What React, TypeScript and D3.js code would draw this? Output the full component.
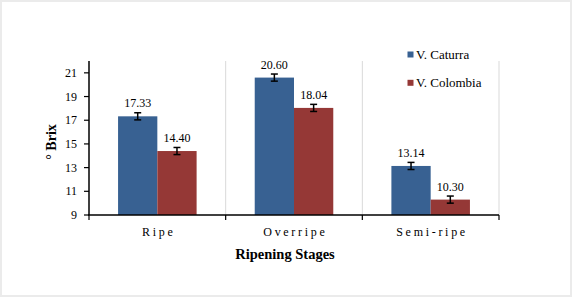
import React from "react";
import * as d3 from "d3";

const categories = ["Ripe", "Overripe", "Semi-ripe"];
const seriesNames = ["V. Caturra", "V. Colombia"];
const caturra = [17.33, 20.6, 13.14];
const colombia = [14.4, 18.04, 10.3];
const caturraErr = [0.3, 0.3, 0.3];
const colombiaErr = [0.3, 0.3, 0.3];
const yTicks = [9, 11, 13, 15, 17, 19, 21];
const colors = ["#386192", "#953836"];

const W = 572;
const H = 297;
const left = 89;
const right = 499;
const top = 61;
const bottom = 215;
const font = "Liberation Serif, Times New Roman, Times, serif";

export default function App() {
  const y = d3.scaleLinear().domain([9, 22]).range([bottom, top]);
  const x0 = d3.scaleBand<string>().domain(categories).range([left, right]).paddingInner(0).paddingOuter(0);
  const x1 = d3
    .scaleBand<string>()
    .domain(seriesNames)
    .range([0, x0.step()])
    .paddingInner(0)
    .paddingOuter(0.74);
  const values = [caturra, colombia];
  const errs = [caturraErr, colombiaErr];
  const boundaries = [left, ...categories.map((c) => (x0(c) as number) + x0.step())];
  const ts = { fontFamily: font };

  return (
    <svg width={W} height={H} style={{ position: "absolute", left: 0, top: 0, fontFamily: font }}>
      <rect x={0} y={0} width={W} height={H} fill="#ebebeb" />
      <rect x={2} y={2} width={W - 4} height={H - 4} fill="#ffffff" />
      {boundaries.slice(1).map((b, i) => (
        <line key={"g" + i} x1={b} x2={b} y1={top} y2={bottom} stroke="#d9d9d9" strokeWidth={1} />
      ))}
      {seriesNames.map((s, si) =>
        categories.map((c, ci) => {
          const bx = (x0(c) as number) + (x1(s) as number);
          const v = values[si][ci];
          return (
            <rect
              key={s + c}
              x={bx}
              y={y(v)}
              width={x1.bandwidth()}
              height={bottom - y(v)}
              fill={colors[si]}
            />
          );
        })
      )}
      {seriesNames.map((s, si) =>
        categories.map((c, ci) => {
          const cx = (x0(c) as number) + (x1(s) as number) + x1.bandwidth() / 2;
          const v = values[si][ci];
          const e = errs[si][ci];
          return (
            <g key={"e" + s + c} stroke="#000" strokeWidth={1.5}>
              <line x1={cx} x2={cx} y1={y(v + e)} y2={y(v - e)} />
              <line x1={cx - 3.5} x2={cx + 3.5} y1={y(v + e)} y2={y(v + e)} />
              <line x1={cx - 3.5} x2={cx + 3.5} y1={y(v - e)} y2={y(v - e)} />
            </g>
          );
        })
      )}
      {seriesNames.map((s, si) =>
        categories.map((c, ci) => {
          const cx = (x0(c) as number) + (x1(s) as number) + x1.bandwidth() / 2;
          const v = values[si][ci];
          return (
            <text key={"l" + s + c} x={cx} y={y(v) - 9} textAnchor="middle" fontSize={12} fill="#000" style={ts}>
              {v.toFixed(2)}
            </text>
          );
        })
      )}
      <line x1={left} x2={left} y1={top} y2={bottom} stroke="#000" strokeWidth={1.5} />
      <line x1={left - 1} x2={right} y1={bottom} y2={bottom} stroke="#000" strokeWidth={1.5} />
      {yTicks.map((t) => (
        <g key={"yt" + t}>
          <line x1={left - 5} x2={left} y1={y(t)} y2={y(t)} stroke="#000" strokeWidth={1.2} />
          <text x={left - 12} y={y(t)} dy="0.34em" textAnchor="end" fontSize={12} fill="#000" style={ts}>
            {t}
          </text>
        </g>
      ))}
      {boundaries.map((b, i) => (
        <line key={"xt" + i} x1={b} x2={b} y1={bottom} y2={bottom + 5} stroke="#000" strokeWidth={1.2} />
      ))}
      {categories.map((c) => (
        <text
          key={"xl" + c}
          x={(x0(c) as number) + x0.step() / 2 + 1.4}
          y={236}
          textAnchor="middle"
          fontSize={12}
          letterSpacing={2.7}
          fill="#000"
          style={ts}
        >
          {c}
        </text>
      ))}
      <text x={285} y={258.5} textAnchor="middle" fontSize={14.5} fontWeight="bold" fill="#000" style={ts}>
        Ripening Stages
      </text>
      <text
        transform={`translate(56, 142) rotate(-90)`}
        textAnchor="middle"
        fontSize={14}
        fontWeight="bold"
        fill="#000"
        style={ts}
      >
        ° Brix
      </text>
      {seriesNames.map((s, si) => (
        <g key={"lg" + s}>
          <rect x={407.5} y={51.5 + si * 28.3} width={6} height={6} fill={colors[si]} />
          <text x={416} y={58.8 + si * 28.3} fontSize={13} fill="#000" style={ts}>
            {s}
          </text>
        </g>
      ))}
    </svg>
  );
}
